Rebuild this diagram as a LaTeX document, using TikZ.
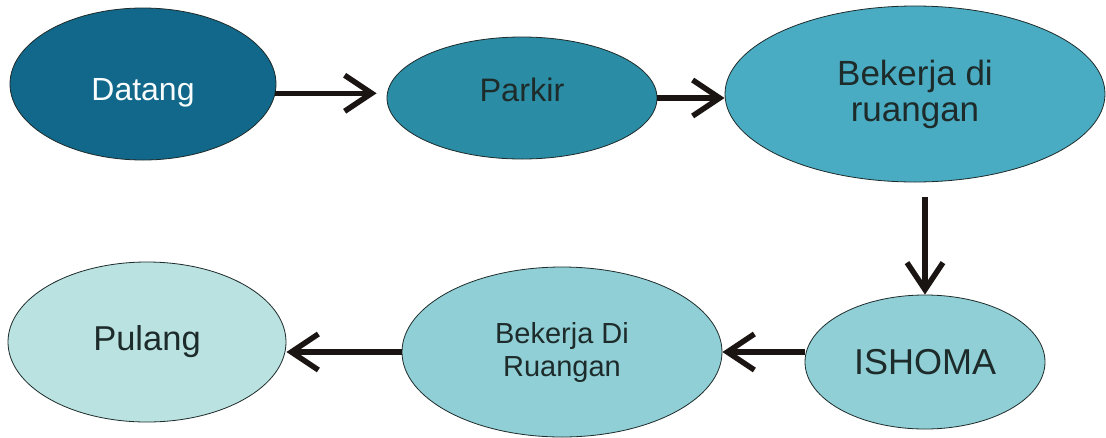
\documentclass[tikz,border=0pt]{standalone}
\usepackage{fontspec}
\setmainfont{Liberation Sans}
\usetikzlibrary{shapes.geometric,arrows.meta}

\definecolor{stepA}{HTML}{11688A}
\definecolor{stepB}{HTML}{2A8DA5}
\definecolor{stepC}{HTML}{4AACC3}
\definecolor{stepD}{HTML}{8FCFD5}
\definecolor{stepE}{HTML}{B9E2E1}
\definecolor{ink}{HTML}{1E2B2B}
\definecolor{arrowink}{HTML}{1A1513}

\begin{document}
\begin{tikzpicture}[x=1pt, y=-1pt,
    every node/.style={ellipse, draw=ink, line width=0.8pt, inner sep=0pt, align=center,
                       text=ink, font=\fontsize{32}{35}\selectfont},
    flow/.style={line width=5.5pt, draw=arrowink, -{Straight Barb[length=27pt, width=36pt, line width=5.5pt]}}]

    % white page
    \useasboundingbox[fill=white] (0,0) rectangle (1106,437);

    % top row, left to right
    \node (datang) [fill=stepA, text=white!90!stepE, minimum width=266pt, minimum height=152pt, text height=40pt] at (143,84) {Datang};
    \node (parkir) [fill=stepB, minimum width=270pt, minimum height=122pt, text depth=16pt, font=\fontsize{32.5}{35}\selectfont] at (522,98) {Parkir};
    \node (kerja1) [fill=stepC, minimum width=380pt, minimum height=176pt, font=\fontsize{35}{36}\selectfont] at (915,94) {Bekerja di\\ruangan};

    % bottom row, right to left
    \node (ishoma) [fill=stepD, minimum width=240pt, minimum height=134pt, font=\fontsize{36}{38}\selectfont] at (925,362) {ISHOMA};
    \node (kerja2) [fill=stepD, minimum width=320pt, minimum height=170pt, font=\fontsize{29}{33}\selectfont] at (562,352) {Bekerja Di\\Ruangan};
    \node (pulang) [fill=stepE, minimum width=278pt, minimum height=160pt, font=\fontsize{34.5}{36}\selectfont] at (147,342) {Pulang};

    % arrows between the steps
    \draw[flow, shorten >=10pt] (datang.-4) -- (datang.-4 -| parkir.west);
    \draw[flow] (parkir.east) -- (parkir.east -| kerja1.west);
    \draw[flow, shorten <=15pt] (kerja1.south -| ishoma.north) -- (ishoma.north);
    \draw[flow] (kerja2.east -| ishoma.west) -- (kerja2.east);
    \draw[flow] (kerja2.west) -- (kerja2.west -| pulang.east);

\end{tikzpicture}
\end{document}
